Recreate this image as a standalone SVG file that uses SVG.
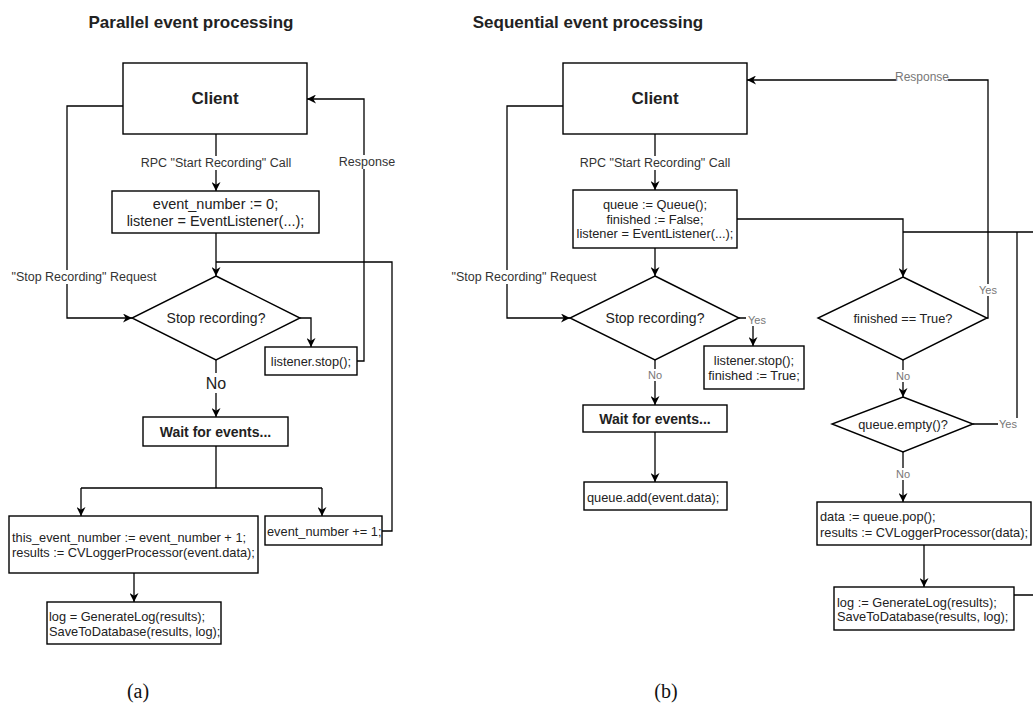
<svg xmlns="http://www.w3.org/2000/svg" width="1033" height="708" viewBox="0 0 1033 708">
<defs>
<style>
.bx{fill:#fff;stroke:#000;stroke-width:1.4}
.ln{fill:none;stroke:#000;stroke-width:1.3}
text{font-family:"Liberation Sans",Arial,sans-serif;fill:#222}
.ttl{font-size:17px;font-weight:bold;text-anchor:middle}
.cl{font-size:17px;font-weight:bold;text-anchor:middle}
.t{font-size:12.8px}
.c{text-anchor:middle}
.lb{font-size:12.5px;fill:#333;text-anchor:middle}
.sm{font-size:11px;fill:#777;text-anchor:middle}
.bg{fill:#fff}
.cap{font-family:"Liberation Serif","Times New Roman",serif;font-size:20px;text-anchor:middle;fill:#111}
</style>
<marker id="arr" viewBox="0 0 10 10" refX="10" refY="5" markerWidth="9" markerHeight="9" markerUnits="userSpaceOnUse" orient="auto">
<path d="M0,0 L10,5 L0,10 L3,5 z" fill="#000"/>
</marker>
</defs>
<rect width="1033" height="708" fill="#fff"/>

<text class="ttl" x="191" y="28">Parallel event processing</text>
<text class="ttl" x="588" y="28">Sequential event processing</text>

<g id="connectors">
<path class="ln" d="M216,134 V191" marker-end="url(#arr)"/>
<path class="ln" d="M216,233 V276" marker-end="url(#arr)"/>
<path class="ln" d="M123,106 H67 V318 H132" marker-end="url(#arr)"/>
<path class="ln" d="M300,318 H311 V347" marker-end="url(#arr)"/>
<path class="ln" d="M357,361 H364 V99 H307" marker-end="url(#arr)"/>
<path class="ln" d="M216,360 V417" marker-end="url(#arr)"/>
<path class="ln" d="M216,446 V488 M81,488 H322"/>
<path class="ln" d="M81,488 V516" marker-end="url(#arr)"/>
<path class="ln" d="M322,488 V516" marker-end="url(#arr)"/>
<path class="ln" d="M134,573 V602" marker-end="url(#arr)"/>
<path class="ln" d="M382,531 H392 V262 H216"/>
<path class="ln" d="M655,134 V190" marker-end="url(#arr)"/>
<path class="ln" d="M655,248 V276" marker-end="url(#arr)"/>
<path class="ln" d="M563,106 H507 V318 H570" marker-end="url(#arr)"/>
<path class="ln" d="M739,318 H753 V346" marker-end="url(#arr)"/>
<path class="ln" d="M655,360 V405" marker-end="url(#arr)"/>
<path class="ln" d="M655,432 V482" marker-end="url(#arr)"/>
<path class="ln" d="M737,219 H903 V277" marker-end="url(#arr)"/>
<path class="ln" d="M987,318 H988 V80 H747" marker-end="url(#arr)"/>
<path class="ln" d="M903,360 V397" marker-end="url(#arr)"/>
<path class="ln" d="M973,424 H1017 V232"/>
<path class="ln" d="M903,452 V502" marker-end="url(#arr)"/>
<path class="ln" d="M924,545 V587" marker-end="url(#arr)"/>
<path class="ln" d="M1014,595 H1040 V232 H903"/>
<rect class="bg" x="139" y="156" width="155" height="14"/>
<text class="lb" x="216" y="163" dominant-baseline="central">RPC "Start Recording" Call</text>
<rect class="bg" x="12" y="270" width="146" height="14"/>
<text class="lb" x="84" y="277" dominant-baseline="central">"Stop Recording" Request</text>
<rect class="bg" x="338" y="155" width="58" height="14"/>
<text class="lb" x="367" y="162" dominant-baseline="central">Response</text>
<rect class="bg" x="204" y="373" width="24" height="20"/>
<text x="216" y="383" font-size="16" text-anchor="middle" fill="#333" dominant-baseline="central">No</text>
<rect class="bg" x="578" y="156" width="155" height="14"/>
<text class="lb" x="655" y="163" dominant-baseline="central">RPC "Start Recording" Call</text>
<rect class="bg" x="452" y="270" width="146" height="14"/>
<text class="lb" x="524" y="277" dominant-baseline="central">"Stop Recording" Request</text>
<rect class="bg" x="896" y="71" width="52" height="13"/>
<text class="sm" x="922" y="77" dominant-baseline="central" style="font-size:12px">Response</text>
<rect class="bg" x="746" y="314" width="22" height="12"/>
<text class="sm" x="757" y="320" dominant-baseline="central">Yes</text>
<rect class="bg" x="645" y="369" width="20" height="12"/>
<text class="sm" x="655" y="375" dominant-baseline="central">No</text>
<rect class="bg" x="978" y="284" width="20" height="12"/>
<text class="sm" x="988" y="290" dominant-baseline="central">Yes</text>
<rect class="bg" x="893" y="370" width="20" height="12"/>
<text class="sm" x="903" y="376" dominant-baseline="central">No</text>
<rect class="bg" x="998" y="418" width="20" height="12"/>
<text class="sm" x="1008" y="424" dominant-baseline="central">Yes</text>
<rect class="bg" x="893" y="468" width="20" height="12"/>
<text class="sm" x="903" y="474" dominant-baseline="central">No</text>
</g>

<g id="client-a">
<rect class="bx" x="123" y="63" width="184" height="71"/>
<text class="cl" x="215" y="98" dominant-baseline="central">Client</text>
</g>
<g id="init-a">
<rect class="bx" x="112" y="191" width="207" height="42"/>
<text class="c" x="215.5" y="204" font-size="14.5" dominant-baseline="central">event_number := 0;</text>
<text class="c" x="215.5" y="221" font-size="14.5" dominant-baseline="central">listener = EventListener(...);</text>
</g>
<g id="stop-a">
<polygon class="bx" points="216,276 300,318 216,360 132,318"/>
<text class="c" x="216" y="318" font-size="14" dominant-baseline="central">Stop recording?</text>
</g>
<g id="lstop-a">
<rect class="bx" x="265" y="347" width="92" height="28"/>
<text class="t c" x="311" y="361" dominant-baseline="central">listener.stop();</text>
</g>
<g id="wait-a">
<rect class="bx" x="143" y="417" width="145" height="29"/>
<text class="c" x="215.5" y="432" font-size="14" font-weight="bold" dominant-baseline="central">Wait for events...</text>
</g>
<g id="proc-a">
<rect class="bx" x="9" y="516" width="249" height="57"/>
<text class="t" x="12" y="537" dominant-baseline="central">this_event_number := event_number + 1;</text>
<text class="t" x="12" y="552" dominant-baseline="central">results := CVLoggerProcessor(event.data);</text>
</g>
<g id="inc-a">
<rect class="bx" x="265" y="516" width="117" height="29"/>
<text class="t" x="267" y="531" dominant-baseline="central">event_number += 1;</text>
</g>
<g id="log-a">
<rect class="bx" x="47" y="602" width="174" height="42"/>
<text class="t" x="49" y="616" dominant-baseline="central">log = GenerateLog(results);</text>
<text class="t" x="49" y="631" dominant-baseline="central">SaveToDatabase(results, log);</text>
</g>
<text class="cap" x="138" y="698">(a)</text>

<g id="client-b">
<rect class="bx" x="563" y="63" width="184" height="71"/>
<text class="cl" x="655" y="98" dominant-baseline="central">Client</text>
</g>
<g id="init-b">
<rect class="bx" x="573" y="190" width="164" height="58"/>
<text class="t c" x="655" y="204" dominant-baseline="central">queue := Queue();</text>
<text class="t c" x="655" y="219" dominant-baseline="central">finished := False;</text>
<text class="t c" x="655" y="233" dominant-baseline="central">listener = EventListener(...);</text>
</g>
<g id="stop-b">
<polygon class="bx" points="655,276 739,318 655,360 570,318"/>
<text class="c" x="655" y="318" font-size="14" dominant-baseline="central">Stop recording?</text>
</g>
<g id="lstop-b">
<rect class="bx" x="704" y="346" width="100" height="43"/>
<text class="t c" x="754" y="360" dominant-baseline="central">listener.stop();</text>
<text class="t c" x="754" y="375" dominant-baseline="central">finished := True;</text>
</g>
<g id="wait-b">
<rect class="bx" x="583" y="405" width="144" height="27"/>
<text class="c" x="655" y="419" font-size="14" font-weight="bold" dominant-baseline="central">Wait for events...</text>
</g>
<g id="add-b">
<rect class="bx" x="584" y="482" width="143" height="28"/>
<text class="t" x="587" y="497" dominant-baseline="central">queue.add(event.data);</text>
</g>
<g id="fin-b">
<polygon class="bx" points="903,277 987,318 903,360 818,318"/>
<text class="t c" x="903" y="318" dominant-baseline="central">finished == True?</text>
</g>
<g id="empty-b">
<polygon class="bx" points="903,397 973,424 903,452 832,424"/>
<text class="t c" x="903" y="424" dominant-baseline="central">queue.empty()?</text>
</g>
<g id="pop-b">
<rect class="bx" x="817" y="502" width="214" height="43"/>
<text class="t" x="820" y="516" dominant-baseline="central">data := queue.pop();</text>
<text class="t" x="820" y="532" dominant-baseline="central">results := CVLoggerProcessor(data);</text>
</g>
<g id="log-b">
<rect class="bx" x="834" y="587" width="180" height="43"/>
<text class="t" x="837" y="602" dominant-baseline="central">log := GenerateLog(results);</text>
<text class="t" x="837" y="616" dominant-baseline="central">SaveToDatabase(results, log);</text>
</g>
<text class="cap" x="666" y="698">(b)</text>
</svg>
